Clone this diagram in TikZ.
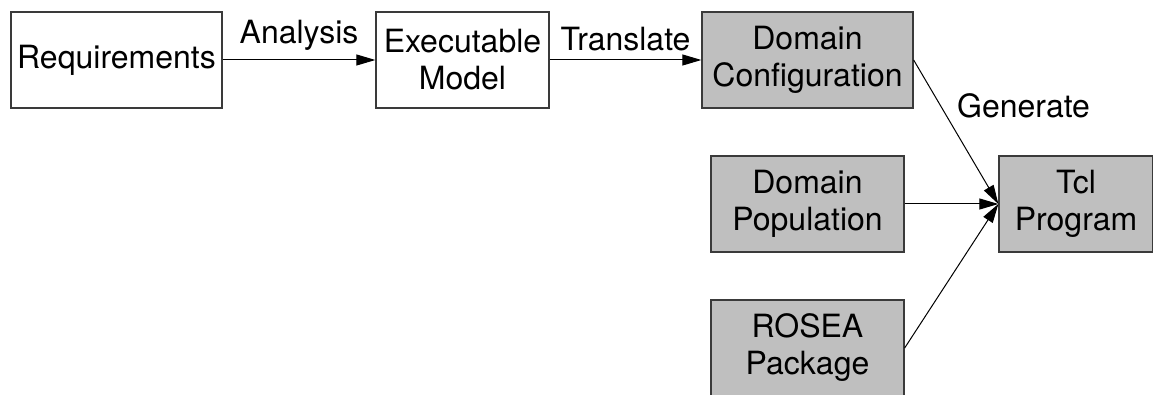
\documentclass[tikz,border=0pt]{standalone}
\usepackage{fontspec}
\setmainfont{TeX Gyre Heros}
\usetikzlibrary{arrows.meta}
\definecolor{boxgray}{HTML}{BFBFBF}
\definecolor{edgegray}{HTML}{3A3A3A}
\tikzset{
  box/.style={draw=edgegray, line width=1.3pt, rectangle, inner sep=0pt, minimum height=96pt, align=center,
    font=\fontsize{32pt}{37pt}\selectfont},
  graybox/.style={box, fill=boxgray},
  arr/.style={line width=1pt, draw=black, -{Triangle[length=19pt,width=11pt]}},
  lbl/.style={font=\fontsize{32pt}{37pt}\selectfont, inner sep=0pt}
}
\begin{document}
\begin{tikzpicture}[x=1pt,y=1pt]
\useasboundingbox (0,0) rectangle (1153,394);
\clip (0,0) rectangle (1153,394);
\node[box, minimum width=211pt] (req) at (116.5,334) {Requirements};
\node[box, minimum width=173pt] (exec) at (462.5,334) {Executable\\Model};
\node[graybox, minimum width=211pt] (conf) at (807.5,334) {Domain\\Configuration};
\node[graybox, minimum width=193pt] (pop) at (807.5,190) {Domain\\Population};
\node[graybox, minimum width=193pt] (rosea) at (807.5,46) {ROSEA\\Package};
\node[graybox, minimum width=154pt] (tcl) at (1076,190) {Tcl\\Program};
\draw[arr] (req) -- node[lbl, above=9pt] (lan) {Analysis} (exec);
\draw[arr] (exec) -- node[lbl, above=9pt] (ltr) {Translate} (conf);
\draw[arr] (conf.east) -- (tcl.west);
\draw[arr] (pop) -- (tcl);
\draw[arr] (rosea.east) -- (tcl.west);
\node[lbl, anchor=base west] (lgen) at (957,276) {Generate};
\end{tikzpicture}
\end{document}
